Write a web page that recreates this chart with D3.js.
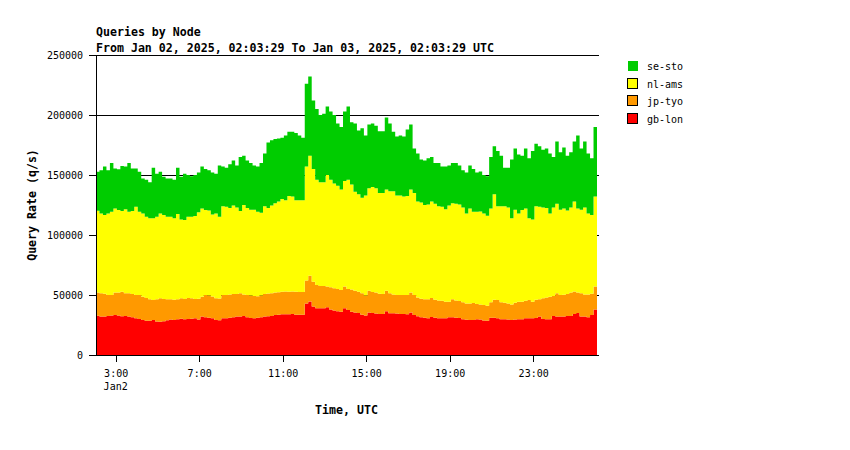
<html lang="en">

<head>
    <meta charset="UTF-8">
    <title>Queries by Node</title>
    <style>
        body {
            margin: 0;
            background: #ffffff;
        }

        text {
            font-family: "DejaVu Sans Mono", monospace;
        }
    </style>
</head>

<body>
    <script src="https://d3js.org/d3.v7.min.js"></script>

    <div id="my_dataviz"></div>

    <script>

        // Data: one value every 10 minutes, thousands of queries per second
        var startTime = Date.UTC(2025, 0, 2, 2, 3, 29)
        var stepMinutes = 10

        var nodes = ["se-sto", "nl-ams", "jp-tyo", "gb-lon"]
        var colors = ["#00cc00", "#ffff00", "#ff9900", "#ff0000"]

        var gbLon = [32.8, 32.0, 32.0, 32.5, 33.0, 33.3, 33.0, 32.2, 32.5, 32.0, 31.4, 30.6, 30.0, 29.2, 28.6, 28.6, 29.2, 28.0, 27.8, 28.2, 29.0, 29.5, 29.2, 29.7, 30.3, 29.7, 30.0, 30.3, 30.6,
            29.5, 32.0, 31.4, 31.0, 30.6, 29.2, 29.0, 30.6, 30.6, 31.0, 31.4, 32.0, 32.0, 32.5, 31.4, 30.8, 30.6, 31.0, 31.4, 32.0, 32.2, 32.5, 33.3, 33.6, 33.9, 34.0, 33.9, 34.2, 33.6,
            33.6, 33.6, 43.0, 44.5, 40.5, 39.0, 38.9, 39.0, 39.7, 38.0, 37.0, 36.5, 36.1, 39.0, 37.5, 36.0, 35.5, 35.0, 33.5, 33.0, 35.5, 35.0, 34.5, 34.2, 34.2, 36.5, 34.7, 34.7, 34.5,
            34.2, 34.2, 33.9, 35.5, 33.3, 32.2, 31.4, 31.0, 30.6, 31.7, 31.0, 30.6, 30.6, 30.6, 31.4, 31.4, 31.0, 30.8, 29.7, 29.4, 29.2, 29.2, 29.7, 29.5, 28.8, 28.6, 31.0, 31.0, 30.6,
            29.7, 29.7, 29.5, 29.2, 29.5, 29.7, 29.7, 30.6, 30.6, 30.6, 30.8, 32.0, 30.0, 29.7, 29.7, 32.5, 32.0, 32.0, 32.0, 32.5, 32.5, 34.2, 35.0, 32.0, 32.0, 31.4, 33.3, 38.0]

        var jpTyo = [19.2, 19.4, 19.0, 17.5, 17.0, 18.7, 19.0, 20.6, 18.9, 19.4, 19.4, 19.4, 20.0, 19.4, 18.9, 17.8, 16.6, 18.4, 19.4, 18.5, 17.4, 16.9, 16.8, 16.7, 16.9, 17.0, 17.5, 16.9, 16.1,
            17.4, 16.6, 18.6, 18.5, 18.2, 18.0, 18.0, 19.4, 19.4, 19.5, 19.4, 18.8, 19.4, 18.0, 18.6, 18.7, 18.6, 18.0, 18.1, 18.8, 19.0, 18.9, 18.7, 18.6, 18.9, 19.0, 18.9, 18.8, 19.2,
            18.9, 18.9, 19.0, 21.5, 20.5, 19.3, 18.6, 18.5, 17.3, 18.5, 18.6, 18.5, 18.1, 18.0, 17.5, 18.5, 18.0, 17.8, 18.0, 16.5, 18.1, 17.5, 17.5, 16.8, 16.6, 17.0, 16.7, 15.8, 15.5,
            15.8, 15.8, 16.1, 16.5, 16.7, 15.8, 15.4, 15.4, 15.8, 15.8, 15.0, 14.9, 14.7, 13.8, 13.0, 15.1, 14.5, 14.2, 14.3, 13.6, 13.8, 14.1, 12.8, 12.5, 12.9, 12.4, 13.0, 15.0, 15.2,
            14.3, 13.8, 13.5, 12.8, 14.0, 14.7, 14.7, 14.7, 15.2, 13.8, 15.2, 14.4, 17.2, 18.3, 18.9, 16.7, 19.4, 18.0, 18.3, 18.3, 19.5, 18.8, 17.0, 19.4, 18.5, 19.1, 17.7, 19.0]

        var nlAms = [68.3, 66.6, 65.7, 68.0, 69.4, 70.0, 68.8, 67.2, 70.0, 68.0, 69.2, 73.6, 69.4, 69.4, 67.8, 67.5, 68.1, 68.9, 70.8, 70.0, 68.9, 68.9, 67.9, 71.1, 65.8, 65.8, 67.8, 68.1, 69.1,
            72.1, 73.4, 70.8, 71.0, 68.2, 70.8, 68.3, 74.0, 73.6, 72.0, 73.7, 72.2, 68.6, 74.5, 72.5, 71.5, 71.8, 70.4, 69.0, 73.2, 71.3, 73.1, 74.4, 75.8, 77.2, 76.0, 79.7, 79.0, 76.2,
            76.5, 76.5, 95.0, 100.0, 94.0, 87.7, 86.5, 86.5, 93.0, 89.5, 87.4, 86.0, 83.8, 88.0, 91.0, 87.5, 82.5, 81.2, 79.5, 83.5, 85.4, 87.5, 87.0, 84.0, 84.2, 84.5, 85.1, 86.0, 83.0,
            83.0, 82.0, 82.5, 86.0, 85.0, 80.0, 80.2, 78.6, 79.1, 80.5, 80.0, 78.5, 78.2, 77.1, 80.1, 80.0, 80.5, 80.5, 79.0, 75.0, 79.0, 76.1, 76.9, 77.5, 76.3, 75.0, 78.0, 88.0, 78.2,
            80.0, 80.5, 80.0, 72.0, 77.5, 73.6, 76.4, 76.7, 68.2, 68.6, 78.0, 77.1, 75.8, 74.5, 69.4, 73.8, 74.6, 71.0, 71.7, 69.7, 71.0, 75.0, 70.0, 69.6, 72.5, 67.5, 65.7, 75.0]

        var seSto = [32.5, 36.0, 40.3, 36.0, 40.6, 33.5, 33.9, 37.5, 35.6, 40.6, 35.5, 31.9, 33.4, 29.0, 30.7, 30.1, 42.1, 35.7, 34.8, 31.9, 31.7, 31.7, 32.1, 38.5, 35.6, 38.5, 34.7, 33.7, 34.2,
            33.0, 35.0, 34.2, 33.5, 35.0, 33.0, 42.7, 33.0, 32.4, 36.5, 37.5, 35.0, 45.0, 41.0, 39.5, 39.0, 37.0, 37.6, 41.5, 44.0, 54.5, 54.5, 53.6, 52.5, 51.0, 54.0, 53.5, 54.0, 56.0,
            54.0, 52.0, 69.0, 66.0, 57.0, 59.0, 56.0, 57.0, 57.0, 57.0, 57.0, 52.0, 52.0, 58.0, 61.0, 52.0, 57.0, 53.0, 58.0, 50.0, 53.0, 53.0, 52.0, 51.5, 51.5, 60.0, 56.5, 49.5, 49.0,
            50.0, 50.0, 55.5, 54.0, 37.0, 40.0, 36.0, 37.0, 38.5, 37.0, 34.0, 36.0, 33.5, 35.5, 33.5, 33.5, 34.0, 32.5, 31.0, 34.0, 36.0, 35.6, 32.6, 33.5, 32.0, 33.0, 43.0, 40.0, 46.0,
            42.0, 32.0, 33.0, 49.0, 51.0, 49.0, 45.2, 50.0, 50.0, 57.0, 52.0, 50.5, 48.0, 49.5, 50.0, 42.0, 52.0, 48.0, 51.0, 45.5, 46.0, 50.0, 61.0, 51.0, 55.0, 50.0, 47.3, 58.0]

        var yTicks = [0, 50000, 100000, 150000, 200000, 250000]
        var xTickHours = [3, 7, 11, 15, 19, 23]

        // Size
        var width = 850
        var height = 450
        var plotLeft = 96, plotRight = 597, plotTop = 55, plotBottom = 355

        var svg = d3.select("#my_dataviz")
            .append("svg")
            .attr("width", width)
            .attr("height", height)

        // Rows for the stack (last row repeated so the final step has a width)
        var rows = gbLon.map(function (v, i) {
            return {
                time: new Date(startTime + i * stepMinutes * 60000),
                "gb-lon": gbLon[i] * 1000,
                "jp-tyo": jpTyo[i] * 1000,
                "nl-ams": nlAms[i] * 1000,
                "se-sto": seSto[i] * 1000
            }
        })
        var lastRow = Object.assign({}, rows[rows.length - 1])
        lastRow.time = new Date(startTime + rows.length * stepMinutes * 60000)
        rows.push(lastRow)

        var x = d3.scaleUtc()
            .domain([new Date(startTime), lastRow.time])
            .range([plotLeft, plotRight])

        var y = d3.scaleLinear()
            .domain([0, 250000])
            .range([plotBottom, plotTop])

        // Grid lines behind the data
        svg.append("g")
            .selectAll("line")
            .data(yTicks)
            .enter()
            .append("line")
            .attr("x1", plotLeft)
            .attr("x2", plotRight + 1.5)
            .attr("y1", function (d) { return y(d) + 0.5 })
            .attr("y2", function (d) { return y(d) + 0.5 })
            .attr("stroke", "black")
            .attr("stroke-width", 1)
            .attr("shape-rendering", "crispEdges")

        // Stacked areas, bottom node first
        var stackKeys = ["gb-lon", "jp-tyo", "nl-ams", "se-sto"]
        var color = d3.scaleOrdinal()
            .domain(nodes)
            .range(colors)

        var stacked = d3.stack().keys(stackKeys)(rows)

        var area = d3.area()
            .curve(d3.curveStepAfter)
            .x(function (d) { return x(d.data.time) })
            .y0(function (d) { return y(d[0]) })
            .y1(function (d) { return y(d[1]) })

        svg.append("g")
            .selectAll("path")
            .data(stacked)
            .enter()
            .append("path")
            .attr("d", area)
            .attr("fill", function (d) { return color(d.key) })

        // Y axis (d3 adds its own half-pixel offset)
        var yAxis = svg.append("g")
            .attr("transform", "translate(" + plotLeft + ",0)")
            .call(d3.axisLeft(y)
                .tickValues(yTicks)
                .tickFormat(d3.format("d"))
                .tickSize(7)
                .tickSizeOuter(0)
                .tickPadding(6))
        yAxis.selectAll("text")
            .style("font-family", "DejaVu Sans Mono")
            .style("font-size", "10px")
        yAxis.attr("shape-rendering", "crispEdges")

        // X axis (ticks and labels only)
        var xTicks = xTickHours.map(function (h) { return new Date(Date.UTC(2025, 0, 2, h)) })
        var xAxis = svg.append("g")
            .attr("transform", "translate(0," + plotBottom + ")")
            .call(d3.axisBottom(x)
                .tickValues(xTicks)
                .tickFormat(d3.utcFormat("%-H:%M"))
                .tickSize(7)
                .tickPadding(8))
        xAxis.select(".domain").remove()
        xAxis.selectAll("text")
            .style("font-family", "DejaVu Sans Mono")
            .style("font-size", "10px")
        xAxis.attr("shape-rendering", "crispEdges")

        // Day label under the first tick
        svg.append("text")
            .attr("x", x(xTicks[0]))
            .attr("y", 390)
            .attr("text-anchor", "middle")
            .style("font-size", "10px")
            .text("Jan2")

        // Titles
        svg.append("text")
            .attr("x", plotLeft)
            .attr("y", 36)
            .style("font-size", "11.6px")
            .style("font-weight", "bold")
            .text("Queries by Node")

        svg.append("text")
            .attr("x", plotLeft)
            .attr("y", 52)
            .style("font-size", "11.6px")
            .style("font-weight", "bold")
            .text("From Jan 02, 2025, 02:03:29 To Jan 03, 2025, 02:03:29 UTC")

        svg.append("text")
            .attr("transform", "translate(36," + ((plotTop + plotBottom) / 2) + ") rotate(-90)")
            .attr("text-anchor", "middle")
            .style("font-size", "11.6px")
            .style("font-weight", "bold")
            .text("Query Rate (q/s)")

        svg.append("text")
            .attr("x", (plotLeft + plotRight) / 2)
            .attr("y", 414)
            .attr("text-anchor", "middle")
            .style("font-size", "11.6px")
            .style("font-weight", "bold")
            .text("Time, UTC")

        // Legend
        var legend = svg.append("g")
            .selectAll("g")
            .data(nodes)
            .enter()
            .append("g")
            .attr("transform", function (d, i) { return "translate(627," + (60 + i * 17.7) + ")" })

        legend.append("rect")
            .attr("x", 0.5)
            .attr("y", 0.5)
            .attr("width", 10)
            .attr("height", 10)
            .attr("fill", function (d) { return color(d) })
            .attr("stroke", function (d, i) { return i == 0 ? "none" : "black" })
            .attr("shape-rendering", "crispEdges")

        legend.append("text")
            .attr("x", 20)
            .attr("y", 10)
            .style("font-size", "10px")
            .text(function (d) { return d })

    </script>

</body>

</html>
